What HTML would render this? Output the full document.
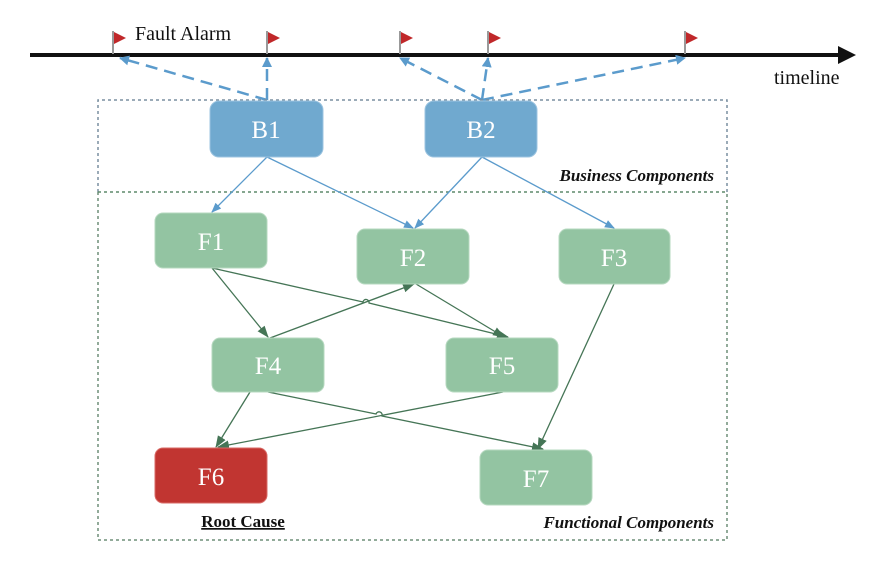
<!DOCTYPE html>
<html><head><meta charset="utf-8"><style>
html,body{margin:0;padding:0;background:#fff;}
svg{display:block;}
.n{font-family:"Liberation Serif",serif;font-size:25px;fill:#fff;text-anchor:middle;}
</style></head><body>
<svg width="882" height="574" viewBox="0 0 882 574" xmlns="http://www.w3.org/2000/svg">
<defs>
<marker id="bA" markerWidth="10" markerHeight="10" refX="9" refY="5" orient="auto" markerUnits="userSpaceOnUse"><path d="M0,0 L10,5 L0,10 z" fill="#5b9bcc"/></marker>
<marker id="bS" markerWidth="10" markerHeight="10" refX="9" refY="5" orient="auto" markerUnits="userSpaceOnUse"><path d="M0,1 L10,5 L0,9 z" fill="#5b9bcc"/></marker>
<marker id="gA" markerWidth="12" markerHeight="12" refX="11" refY="6" orient="auto" markerUnits="userSpaceOnUse"><path d="M0,1.5 L12,6 L0,10.5 z" fill="#457556"/></marker>
</defs>
<!-- timeline -->
<line x1="30" y1="55" x2="842" y2="55" stroke="#111" stroke-width="4"/>
<path d="M838,46 L856,55 L838,64 z" fill="#111"/>
<text x="774" y="84" font-family="Liberation Serif,serif" font-size="20" fill="#111">timeline</text>
<text x="135" y="40" font-family="Liberation Serif,serif" font-size="20" fill="#111">Fault Alarm</text>
<g stroke="#999" stroke-width="2">
<line x1="113" y1="31" x2="113" y2="54"/><line x1="267" y1="31" x2="267" y2="54"/><line x1="400" y1="31" x2="400" y2="54"/><line x1="488" y1="31" x2="488" y2="54"/><line x1="685" y1="31" x2="685" y2="54"/>
</g>
<g fill="#c0282a">
<path d="M114,32 L126,38 L114,44z"/><path d="M268,32 L280,38 L268,44z"/><path d="M401,32 L413,38 L401,44z"/><path d="M489,32 L501,38 L489,44z"/><path d="M686,32 L698,38 L686,44z"/>
</g>
<!-- dashed arrows -->
<g stroke="#5b9bcc" stroke-width="2.5" stroke-dasharray="12,7" fill="none">
<line x1="267" y1="100" x2="120" y2="58" marker-end="url(#bA)"/>
<line x1="267" y1="100" x2="267" y2="58" marker-end="url(#bA)"/>
<line x1="482" y1="100" x2="400" y2="58" marker-end="url(#bA)"/>
<line x1="482" y1="100" x2="488" y2="58" marker-end="url(#bA)"/>
<line x1="482" y1="100" x2="685" y2="58" marker-end="url(#bA)"/>
</g>
<!-- boxes -->
<path d="M98,192 L98,100 L727,100 L727,192" fill="none" stroke="#7a8fa0" stroke-width="1.5" stroke-dasharray="3,3"/>
<path d="M98,192 L98,540 L727,540 L727,192" fill="none" stroke="#6e8f78" stroke-width="1.5" stroke-dasharray="3,3"/>
<line x1="98" y1="192" x2="727" y2="192" stroke="#5f8a6c" stroke-width="1.5" stroke-dasharray="3,3"/>
<text x="714" y="181" text-anchor="end" font-family="Liberation Serif,serif" font-size="17" font-weight="bold" font-style="italic" fill="#111">Business Components</text>
<text x="714" y="528" text-anchor="end" font-family="Liberation Serif,serif" font-size="17" font-weight="bold" font-style="italic" fill="#111">Functional Components</text>
<text x="243" y="527" text-anchor="middle" font-family="Liberation Serif,serif" font-size="17" font-weight="bold" fill="#111" text-decoration="underline">Root Cause</text>
<!-- blue edges -->
<g stroke="#5b9bcc" stroke-width="1.3" fill="none">
<line x1="267" y1="157" x2="212" y2="212" marker-end="url(#bS)"/>
<line x1="267" y1="157" x2="413" y2="228" marker-end="url(#bS)"/>
<line x1="482" y1="157" x2="415" y2="228" marker-end="url(#bS)"/>
<line x1="482" y1="157" x2="614" y2="228" marker-end="url(#bS)"/>
</g>
<!-- green edges -->
<g stroke="#457556" stroke-width="1.3" fill="none">
<line x1="212" y1="268" x2="268" y2="337" marker-end="url(#gA)"/>
<path d="M212,268 L363,302 A3,3 0 0 1 369,303 L508,337" marker-end="url(#gA)"/>
<line x1="270" y1="338" x2="414" y2="284" marker-end="url(#gA)"/>
<line x1="416" y1="284" x2="504" y2="337" marker-end="url(#gA)"/>
<line x1="614" y1="284" x2="538" y2="449" marker-end="url(#gA)"/>
<line x1="250" y1="392" x2="216" y2="447" marker-end="url(#gA)"/>
<path d="M268,392 L376,414 A3,3 0 0 1 382,416 L543,449" marker-end="url(#gA)"/>
<line x1="503" y1="392" x2="218" y2="447" marker-end="url(#gA)"/>
</g>
<!-- nodes -->
<rect x="210" y="101" width="113" height="56" rx="9" fill="#70a9cf" stroke="#9cc4e0"/>
<rect x="425" y="101" width="112" height="56" rx="9" fill="#70a9cf" stroke="#9cc4e0"/>
<g fill="#93c4a2" stroke="#b5d8bf">
<rect x="155" y="213" width="112" height="55" rx="8"/>
<rect x="357" y="229" width="112" height="55" rx="8"/>
<rect x="559" y="229" width="111" height="55" rx="8"/>
<rect x="212" y="338" width="112" height="54" rx="8"/>
<rect x="446" y="338" width="112" height="54" rx="8"/>
<rect x="480" y="450" width="112" height="55" rx="8"/>
</g>
<rect x="155" y="448" width="112" height="55" rx="8" fill="#c13531" stroke="#d86a66"/>
<text class="n" x="266" y="138">B1</text>
<text class="n" x="481" y="138">B2</text>
<text class="n" x="211" y="250">F1</text>
<text class="n" x="413" y="266">F2</text>
<text class="n" x="614" y="266">F3</text>
<text class="n" x="268" y="374">F4</text>
<text class="n" x="502" y="374">F5</text>
<text class="n" x="211" y="485">F6</text>
<text class="n" x="536" y="487">F7</text>
</svg>
</body></html>
